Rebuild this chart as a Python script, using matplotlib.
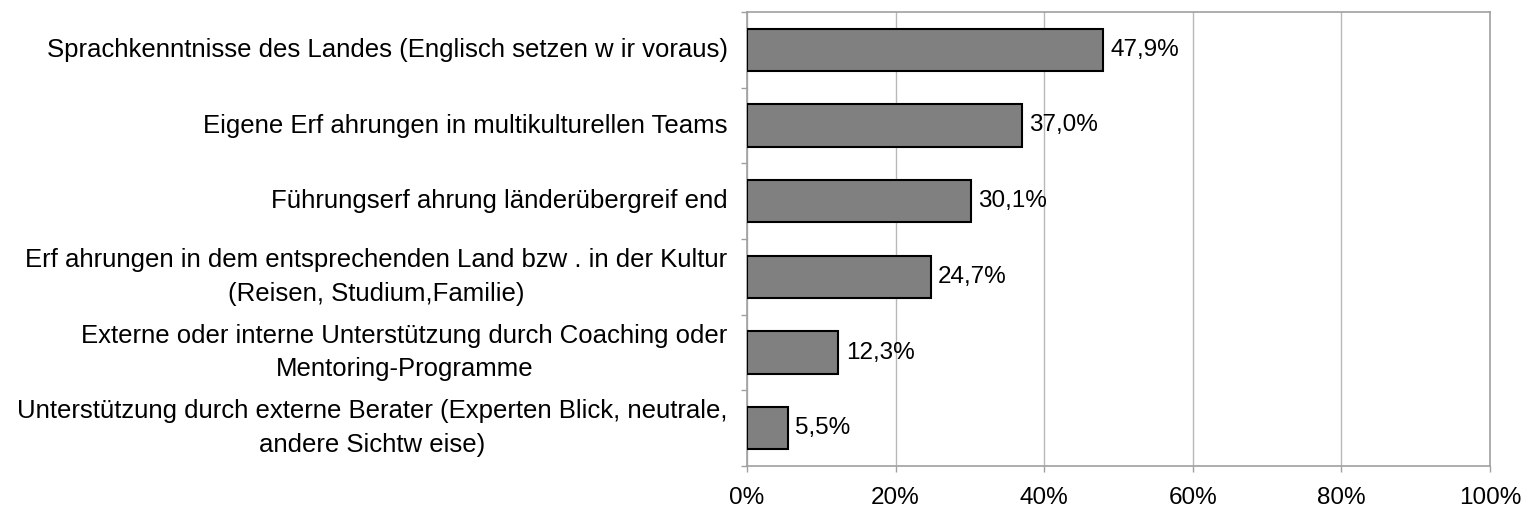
import matplotlib
matplotlib.use("Agg")
import matplotlib.pyplot as plt
from matplotlib.ticker import FuncFormatter

categories = [
    "Sprachkenntnisse des Landes (Englisch setzen w ir voraus)",
    "Eigene Erf ahrungen in multikulturellen Teams",
    "Führungserf ahrung länderübergreif end",
    "Erf ahrungen in dem entsprechenden Land bzw . in der Kultur\n(Reisen, Studium,Familie)",
    "Externe oder interne Unterstützung durch Coaching oder\nMentoring-Programme",
    "Unterstützung durch externe Berater (Experten Blick, neutrale,\nandere Sichtw eise)",
]
values = [47.9, 37.0, 30.1, 24.7, 12.3, 5.5]
xticks = [0, 20, 40, 60, 80, 100]

plt.rcParams['font.family'] = ['Liberation Sans', 'DejaVu Sans']
FS = 17.5
FS_LABEL = 18.5

fig = plt.figure(figsize=(15.26, 5.13), dpi=100)
ax = fig.add_axes([747/1526, 1 - 466/513, (1490-747)/1526, (466-12)/513])

n = len(categories)
ypos = list(range(n))
ax.barh(ypos, values, height=0.56, color='#808080', edgecolor='black', linewidth=1.5, zorder=3)
for y, v in zip(ypos, values):
    ax.text(v + 1.0, y, f"{v:.1f}%".replace('.', ','), va='center', ha='left', fontsize=FS, zorder=4)

ax.set_xlim(0, 100)
ax.set_ylim(n - 0.5, -0.5)
ax.set_xticks(xticks)
ax.xaxis.set_major_formatter(FuncFormatter(lambda x, p: f"{int(x)}%"))
ax.set_yticks([i - 0.5 for i in range(n + 1)], minor=False)
ax.set_yticklabels([])
ax.set_yticks(ypos, minor=True)
ax.set_yticklabels(categories, minor=True, fontsize=FS_LABEL, ha='right', va='center',
                   multialignment='center', linespacing=1.5)
ax.tick_params(axis='y', which='minor', length=0, pad=14)
ax.tick_params(axis='y', which='major', length=4, color='#a0a0a0', width=1)
ax.tick_params(axis='x', length=4, color='#a0a0a0', width=1, labelsize=FS, pad=11, direction='out')
ax.grid(axis='x', color='#b8b8b8', linewidth=1, zorder=0)
for s in ax.spines.values():
    s.set_color('#a0a0a0')
    s.set_linewidth(1.2)

fig.savefig("out.png", dpi=100)
